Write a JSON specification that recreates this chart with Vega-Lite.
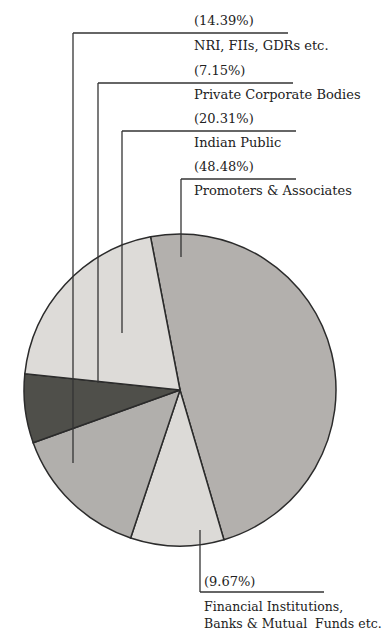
{
  "$schema": "https://vega.github.io/schema/vega-lite/v6.json",
  "width": 386,
  "height": 632,
  "autosize": {"type": "none"},
  "padding": 0,
  "background": "white",
  "config": {"view": {"stroke": null}},
  "datasets": {
    "slices": [
      {"group": "Promoters & Associates", "pct": 48.48, "ord": 1, "cx": 180, "cy": 390},
      {"group": "Financial Institutions, Banks & Mutual Funds etc.", "pct": 9.67, "ord": 2, "cx": 180, "cy": 390},
      {"group": "NRI, FIIs, GDRs etc.", "pct": 14.39, "ord": 3, "cx": 180, "cy": 390},
      {"group": "Private Corporate Bodies", "pct": 7.15, "ord": 4, "cx": 180, "cy": 390},
      {"group": "Indian Public", "pct": 20.31, "ord": 5, "cx": 180, "cy": 390}
    ],
    "leaders": [
      {"group": "NRI", "x": 73, "y": 33, "x2": 288, "y2": 33},
      {"group": "NRI", "x": 73, "y": 33, "x2": 73, "y2": 463},
      {"group": "Private", "x": 98, "y": 83, "x2": 293, "y2": 83},
      {"group": "Private", "x": 98, "y": 83, "x2": 98, "y2": 383},
      {"group": "Indian", "x": 122, "y": 131, "x2": 296, "y2": 131},
      {"group": "Indian", "x": 122, "y": 131, "x2": 122, "y2": 333},
      {"group": "Promoters", "x": 181, "y": 179, "x2": 296, "y2": 179},
      {"group": "Promoters", "x": 181, "y": 179, "x2": 181, "y2": 257},
      {"group": "Financial", "x": 200, "y": 530, "x2": 200, "y2": 592},
      {"group": "Financial", "x": 200, "y": 592, "x2": 324, "y2": 592}
    ],
    "labels": [
      {"text": "(14.39%)", "x": 194, "y": 21, "kind": "main"},
      {"text": "NRI, FIIs, GDRs etc.", "x": 194, "y": 46, "kind": "main"},
      {"text": "(7.15%)", "x": 194, "y": 71, "kind": "main"},
      {"text": "Private Corporate Bodies", "x": 194, "y": 95, "kind": "main"},
      {"text": "(20.31%)", "x": 194, "y": 119, "kind": "main"},
      {"text": "Indian Public", "x": 194, "y": 143, "kind": "main"},
      {"text": "(48.48%)", "x": 194, "y": 167, "kind": "main"},
      {"text": "Promoters & Associates", "x": 194, "y": 191, "kind": "main"},
      {"text": "(9.67%)", "x": 204, "y": 582, "kind": "main"},
      {"text": "Financial Institutions,", "x": 204, "y": 607, "kind": "small"},
      {"text": "Banks & Mutual\u00a0 Funds etc.", "x": 204, "y": 624, "kind": "small"}
    ]
  },
  "layer": [
    {
      "data": {"name": "slices"},
      "mark": {"type": "arc", "outerRadius": 156, "stroke": "#2b2b2b", "strokeWidth": 1.5},
      "encoding": {
        "x": {"field": "cx", "type": "quantitative", "scale": {"domain": [0, 386], "nice": false, "zero": false}, "axis": null},
        "y": {"field": "cy", "type": "quantitative", "scale": {"domain": [0, 632], "reverse": true, "nice": false, "zero": false}, "axis": null},
        "theta": {"field": "pct", "type": "quantitative", "stack": true, "scale": {"range": [-0.19, 6.0932]}},
        "order": {"field": "ord", "type": "quantitative"},
        "color": {
          "field": "group", "type": "nominal", "legend": null,
          "scale": {
            "domain": ["Promoters & Associates", "Financial Institutions, Banks & Mutual Funds etc.", "NRI, FIIs, GDRs etc.", "Private Corporate Bodies", "Indian Public"],
            "range": ["#b3b0ad", "#dcdad7", "#b1afac", "#4f4f4a", "#dddbd8"]
          }
        }
      }
    },
    {
      "data": {"name": "leaders"},
      "mark": {"type": "rule", "color": "#333333", "strokeWidth": 1.3},
      "encoding": {
        "x": {"field": "x", "type": "quantitative", "scale": {"domain": [0, 386], "nice": false, "zero": false}, "axis": null},
        "y": {"field": "y", "type": "quantitative", "scale": {"domain": [0, 632], "reverse": true, "nice": false, "zero": false}, "axis": null},
        "x2": {"field": "x2"},
        "y2": {"field": "y2"}
      }
    },
    {
      "data": {"name": "labels"},
      "transform": [{"filter": "datum.kind === 'main'"}],
      "mark": {"type": "text", "align": "left", "baseline": "middle", "font": "DejaVu Serif", "fontSize": 13, "color": "#222222"},
      "encoding": {
        "x": {"field": "x", "type": "quantitative", "scale": {"domain": [0, 386], "nice": false, "zero": false}, "axis": null},
        "y": {"field": "y", "type": "quantitative", "scale": {"domain": [0, 632], "reverse": true, "nice": false, "zero": false}, "axis": null},
        "text": {"field": "text"}
      }
    },
    {
      "data": {"name": "labels"},
      "transform": [{"filter": "datum.kind === 'small'"}],
      "mark": {"type": "text", "align": "left", "baseline": "middle", "font": "DejaVu Serif", "fontSize": 12.5, "color": "#222222"},
      "encoding": {
        "x": {"field": "x", "type": "quantitative", "scale": {"domain": [0, 386], "nice": false, "zero": false}, "axis": null},
        "y": {"field": "y", "type": "quantitative", "scale": {"domain": [0, 632], "reverse": true, "nice": false, "zero": false}, "axis": null},
        "text": {"field": "text"}
      }
    }
  ]
}
